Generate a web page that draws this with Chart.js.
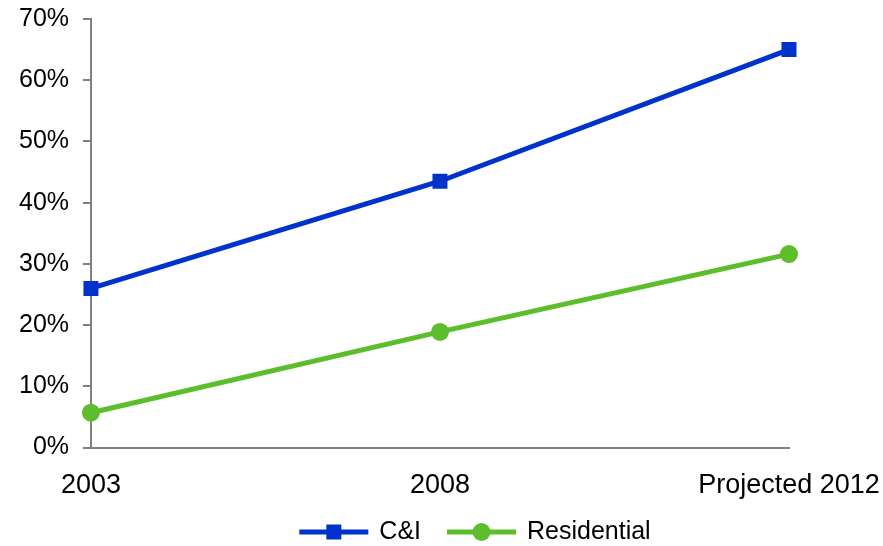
<!DOCTYPE html>
<html>
<head>
<meta charset="utf-8">
<script src="https://cdn.jsdelivr.net/npm/chart.js@4.4.1/dist/chart.umd.min.js"></script>
<style>
  html, body { margin: 0; padding: 0; background: #fff; }
  #wrap { width: 883px; height: 546px; }
</style>
</head>
<body>
<div id="wrap"><canvas id="chart" width="883" height="546"></canvas></div>
<script>
const categories = ["2003", "2008", "Projected 2012"];
const ciValues = [26, 43.5, 65];
const residentialValues = [5.7, 18.9, 31.6];
const seriesNames = ["C&I", "Residential"];

const FONT = '"Liberation Sans", Arial, sans-serif';
const BLUE = "#0033CC";
const GREEN = "#5CBE2A";
const AXIS = "#808080";

// legend drawn by hand so the sample shows line + marker like the original
const lineLegend = {
    id: "lineLegend",
    afterDraw(chart) {
        const ctx = chart.ctx;
        const sets = chart.data.datasets;
        const sample = 69, gap = 11, between = 26;
        ctx.save();
        ctx.font = "25px " + FONT;
        const widths = sets.map(ds => sample + gap + ctx.measureText(ds.label).width);
        const total = widths.reduce((a, b) => a + b, 0) + between * (sets.length - 1);
        let x = 475 - total / 2;
        const y = 532;
        sets.forEach((ds, i) => {
            ctx.strokeStyle = ds.borderColor;
            ctx.lineWidth = 5;
            ctx.beginPath();
            ctx.moveTo(x, y);
            ctx.lineTo(x + sample, y);
            ctx.stroke();
            ctx.fillStyle = ds.borderColor;
            if (ds.pointStyle === "rect") {
                ctx.fillRect(x + sample / 2 - 7.5, y - 7.5, 15, 15);
            } else {
                ctx.beginPath();
                ctx.arc(x + sample / 2, y, 9, 0, Math.PI * 2);
                ctx.fill();
            }
            ctx.fillStyle = "#000";
            ctx.textBaseline = "middle";
            ctx.textAlign = "left";
            ctx.fillText(ds.label, x + sample + gap, y);
            x += widths[i] + between;
        });
        ctx.restore();
    }
};

new Chart(document.getElementById("chart").getContext("2d"), {
    type: "line",
    data: {
        labels: categories,
        datasets: [
            {
                label: seriesNames[0],
                data: ciValues,
                borderColor: BLUE,
                backgroundColor: BLUE,
                borderWidth: 5,
                pointStyle: "rect",
                pointRadius: 10.6,
                pointBorderWidth: 0,
                tension: 0
            },
            {
                label: seriesNames[1],
                data: residentialValues,
                borderColor: GREEN,
                backgroundColor: GREEN,
                borderWidth: 5,
                pointStyle: "circle",
                pointRadius: 9,
                pointBorderWidth: 0,
                tension: 0
            }
        ]
    },
    options: {
        responsive: false,
        animation: false,
        layout: { padding: { left: 19, top: 19, right: 94, bottom: 44 } },
        plugins: {
            legend: { display: false },
            tooltip: { enabled: false }
        },
        scales: {
            x: {
                offset: false,
                // ticks not drawn, tickLength only spaces the labels
                grid: { display: false, drawTicks: true, tickLength: 22 },
                border: { display: true, color: AXIS, width: 2 },
                ticks: {
                    color: "#000",
                    font: { family: FONT, size: 27 },
                    padding: 0,
                    maxRotation: 0,
                    autoSkip: false
                }
            },
            y: {
                min: 0,
                max: 70,
                grid: {
                    drawOnChartArea: false,
                    drawTicks: true,
                    tickLength: 8,
                    color: AXIS,
                    lineWidth: 2
                },
                border: { display: true, color: AXIS, width: 2 },
                ticks: {
                    stepSize: 10,
                    color: "#000",
                    padding: 0,
                    font: { family: FONT, size: 25 },
                    callback: v => v + "%  "
                }
            }
        }
    },
    plugins: [lineLegend]
});
</script>
</body>
</html>
